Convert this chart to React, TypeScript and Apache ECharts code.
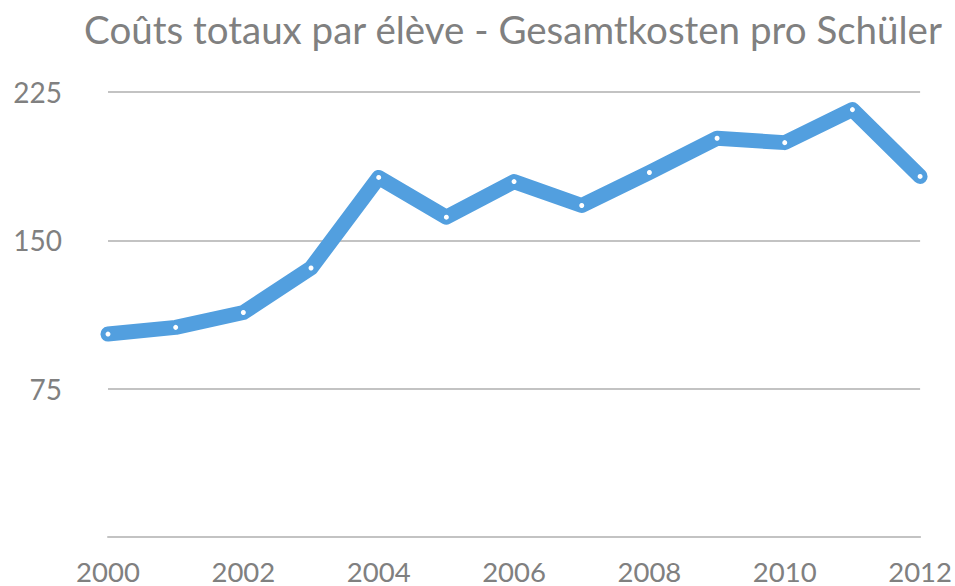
import React, { useEffect, useRef } from "react";
import * as echarts from "echarts";

const years = ["2000","2001","2002","2003","2004","2005","2006","2007","2008","2009","2010","2011","2012"];
const costs = [102.6, 106, 113.5, 136, 181.8, 161.7, 179.7, 167.6, 184.3, 201.6, 199.4, 216.1, 182.3];
const yTicks = [0, 75, 150, 225];
const titleText = "Coûts totaux par élève - Gesamtkosten pro Schüler";

export default function App() {
  const ref = useRef<HTMLDivElement>(null);
  useEffect(() => {
    if (!ref.current) return;
    const chart = echarts.init(ref.current, null, { renderer: "svg" });
    const font = "Lato, 'Open Sans', sans-serif";
    chart.setOption({
      animation: false,
      backgroundColor: "#ffffff",
      title: {
        text: titleText,
        left: 508,
        textAlign: "center",
        top: 4,
        textStyle: { color: "#808080", fontSize: 38.5, fontWeight: "normal", fontFamily: font },
      },
      grid: { left: 108, right: 33, top: 92, bottom: 49, containLabel: false },
      xAxis: {
        type: "category",
        data: years,
        boundaryGap: false,
        axisLine: { show: true, lineStyle: { color: "#c3c3c3", width: 2 } },
        axisTick: { show: false },
        axisLabel: {
          interval: 1,
          color: "#808080",
          fontSize: 27.5,
          lineHeight: 26,
          fontFamily: font,
          margin: 21,
        },
      },
      yAxis: {
        type: "value",
        min: yTicks[0],
        max: yTicks[yTicks.length - 1],
        interval: 75,
        axisLine: { show: false },
        axisTick: { show: false },
        splitLine: { lineStyle: { color: "#c3c3c3", width: 2 } },
        axisLabel: {
          color: "#808080",
          fontSize: 28,
          fontFamily: font,
          margin: 46,
          formatter: (v: number) => (v === 0 ? "" : String(v)),
        },
      },
      series: [
        {
          type: "line",
          data: costs,
          lineStyle: { color: "#529fdf", width: 15, join: "round", cap: "round" },
          symbol: "circle",
          symbolSize: 5,
          itemStyle: { color: "#ffffff", borderColor: "#529fdf", borderWidth: 0 },
          z: 3,
        },
      ],
    });
    return () => chart.dispose();
  }, []);
  return <div ref={ref} style={{ width: 955, height: 586, position: "absolute", left: 0, top: 0 }} />;
}
